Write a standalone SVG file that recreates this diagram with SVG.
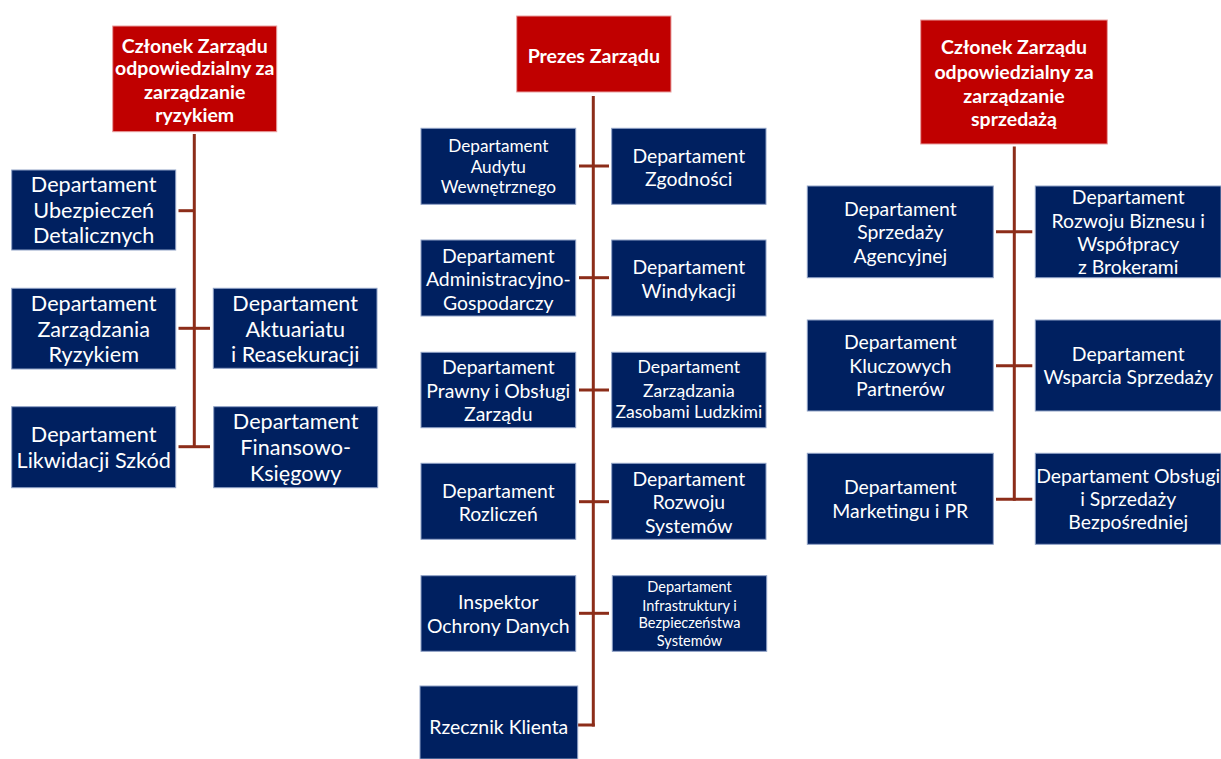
<svg xmlns="http://www.w3.org/2000/svg" width="1221" height="759" viewBox="0 0 1221 759">
<style>
.n rect{fill:#002060;stroke:#8FA2C6;stroke-width:1}
.h rect{fill:#C00000;stroke:#E8A0A0;stroke-width:1}
text{font-family:Lato,"Noto Sans",sans-serif;fill:#fff;text-anchor:middle;dominant-baseline:central}
.h text{font-weight:bold;font-size:19.5px}
.f20{font-size:21.6px}.f18{font-size:19.4px}.f17{font-size:17.6px}.f16{font-size:17.2px}.f14{font-size:14.5px}
#conn line{stroke:#8C2D19;stroke-width:3;fill:none}
</style>
<rect width="1221" height="759" fill="#fff"/>
<g id="conn">
<line x1="194.3" y1="134" x2="194.3" y2="448"/>
<line x1="178.5" y1="210.7" x2="194.3" y2="210.7"/>
<line x1="178.5" y1="328.3" x2="210" y2="328.3"/>
<line x1="178.5" y1="446.7" x2="210" y2="446.7"/>
<line x1="593.3" y1="96" x2="593.3" y2="726.5"/>
<line x1="579" y1="166" x2="609" y2="166"/>
<line x1="579" y1="277.7" x2="609" y2="277.7"/>
<line x1="579" y1="390" x2="609" y2="390"/>
<line x1="579" y1="501.7" x2="609" y2="501.7"/>
<line x1="579" y1="613.3" x2="609" y2="613.3"/>
<line x1="578" y1="725" x2="594.8" y2="725"/>
<line x1="1014.3" y1="146.5" x2="1014.3" y2="500.8"/>
<line x1="996" y1="231.7" x2="1032.3" y2="231.7"/>
<line x1="996" y1="365.7" x2="1032.3" y2="365.7"/>
<line x1="996" y1="499.3" x2="1032.3" y2="499.3"/>
</g>
<g id="czlonek-ryzyko" class="h"><rect x="112.7" y="26" width="164" height="105.7"/>
<text x="194.7" y="45">Członek Zarządu</text><text x="194.7" y="67.7">odpowiedzialny za</text><text x="194.7" y="91">zarządzanie</text><text x="194.7" y="114.3">ryzykiem</text></g>
<g id="prezes" class="h"><rect x="516.7" y="16" width="154.3" height="76"/>
<text x="593.8" y="55" style="font-size:19.6px">Prezes Zarządu</text></g>
<g id="czlonek-sprzedaz" class="h"><rect x="920.7" y="20" width="186.6" height="124"/>
<text x="1014" y="46.7">Członek Zarządu</text><text x="1014" y="71.7">odpowiedzialny za</text><text x="1014" y="95">zarządzanie</text><text x="1014" y="118.3">sprzedażą</text></g>

<g id="ubezpieczen" class="n f20"><rect x="11.7" y="170" width="164" height="80"/>
<text x="93.7" y="184">Departament</text><text x="93.7" y="210">Ubezpieczeń</text><text x="93.7" y="235">Detalicznych</text></g>
<g id="ryzyko" class="n f20"><rect x="11.7" y="288.3" width="164" height="80.7"/>
<text x="93.7" y="302.5">Departament</text><text x="93.7" y="328.5">Zarządzania</text><text x="93.7" y="354">Ryzykiem</text></g>
<g id="aktuariat" class="n f20"><rect x="213.3" y="288.3" width="163.7" height="80"/>
<text x="295.2" y="302.5">Departament</text><text x="295.2" y="328.5">Aktuariatu</text><text x="295.2" y="354">i Reasekuracji</text></g>
<g id="likwidacja" class="n f20"><rect x="11.7" y="406.7" width="164" height="81"/>
<text x="93.7" y="434">Departament</text><text x="93.7" y="459.5">Likwidacji Szkód</text></g>
<g id="finanse" class="n f20"><rect x="213.7" y="406.7" width="164" height="81"/>
<text x="295.7" y="421">Departament</text><text x="295.7" y="447">Finansowo-</text><text x="295.7" y="473">Księgowy</text></g>

<g id="audyt" class="n f16"><rect x="421" y="128.3" width="154.7" height="76"/>
<text x="498.3" y="145">Departament</text><text x="498.3" y="166.7">Audytu</text><text x="498.3" y="186.7">Wewnętrznego</text></g>
<g id="zgodnosc" class="n f18"><rect x="611.7" y="128.3" width="154.3" height="76"/>
<text x="688.8" y="155">Departament</text><text x="688.8" y="178">Zgodności</text></g>
<g id="administracja" class="n f18"><rect x="421" y="240" width="154.7" height="76"/>
<text x="498.3" y="255">Departament</text><text x="498.3" y="278">Administracyjno-</text><text x="498.3" y="302">Gospodarczy</text></g>
<g id="windykacja" class="n f18"><rect x="611.7" y="240" width="154.3" height="76"/>
<text x="688.8" y="266.7">Departament</text><text x="688.8" y="290">Windykacji</text></g>
<g id="prawny" class="n f18"><rect x="421" y="352.3" width="154.7" height="75.4"/>
<text x="498.3" y="366.7">Departament</text><text x="498.3" y="390">Prawny i Obsługi</text><text x="498.3" y="413.3">Zarządu</text></g>
<g id="hr" class="n f17"><rect x="611.7" y="352.3" width="154.3" height="75.4"/>
<text x="688.8" y="366.7">Departament</text><text x="688.8" y="390">Zarządzania</text><text x="688.8" y="411.7">Zasobami Ludzkimi</text></g>
<g id="rozliczenia" class="n f18"><rect x="421" y="463.3" width="154.7" height="76"/>
<text x="498.3" y="490">Departament</text><text x="498.3" y="513.3">Rozliczeń</text></g>
<g id="rozwoj-systemow" class="n f18"><rect x="611.7" y="463.3" width="154.3" height="76"/>
<text x="688.8" y="478.3">Departament</text><text x="688.8" y="501.7">Rozwoju</text><text x="688.8" y="525">Systemów</text></g>
<g id="iod" class="n f18"><rect x="421" y="575.7" width="154.7" height="75.6"/>
<text x="498.3" y="601.7">Inspektor</text><text x="498.3" y="625">Ochrony Danych</text></g>
<g id="infrastruktura" class="n f14"><rect x="612.3" y="575.7" width="154.4" height="75.6"/>
<text x="689.5" y="586.7">Departament</text><text x="689.5" y="605">Infrastruktury i</text><text x="689.5" y="622.7">Bezpieczeństwa</text><text x="689.5" y="640">Systemów</text></g>
<g id="rzecznik" class="n f18"><rect x="420" y="686" width="157.7" height="73"/>
<text x="498.8" y="726">Rzecznik Klienta</text></g>

<g id="agencyjna" class="n f18"><rect x="807.3" y="186" width="186" height="91.7"/>
<text x="900.3" y="208.3">Departament</text><text x="900.3" y="231.7">Sprzedaży</text><text x="900.3" y="255.7">Agencyjnej</text></g>
<g id="brokerzy" class="n f18"><rect x="1035.3" y="186" width="185.7" height="91.7"/>
<text x="1128.2" y="196.7">Departament</text><text x="1128.2" y="220">Rozwoju Biznesu i</text><text x="1128.2" y="243.3">Współpracy</text><text x="1128.2" y="266.7">z Brokerami</text></g>
<g id="kluczowi" class="n f18"><rect x="807.3" y="320" width="186" height="91"/>
<text x="900.3" y="341.7">Departament</text><text x="900.3" y="365">Kluczowych</text><text x="900.3" y="388.3">Partnerów</text></g>
<g id="wsparcie" class="n f18"><rect x="1035.3" y="320" width="185.7" height="91"/>
<text x="1128.2" y="353.3">Departament</text><text x="1128.2" y="376.7">Wsparcia Sprzedaży</text></g>
<g id="marketing" class="n f18"><rect x="807.3" y="453.3" width="186" height="91"/>
<text x="900.3" y="486.7">Departament</text><text x="900.3" y="510">Marketingu i PR</text></g>
<g id="bezposrednia" class="n f18"><rect x="1035.3" y="453.3" width="185.7" height="91"/>
<text x="1128.2" y="475">Departament Obsługi</text><text x="1128.2" y="498.3">i Sprzedaży</text><text x="1128.2" y="521.7">Bezpośredniej</text></g>
</svg>
